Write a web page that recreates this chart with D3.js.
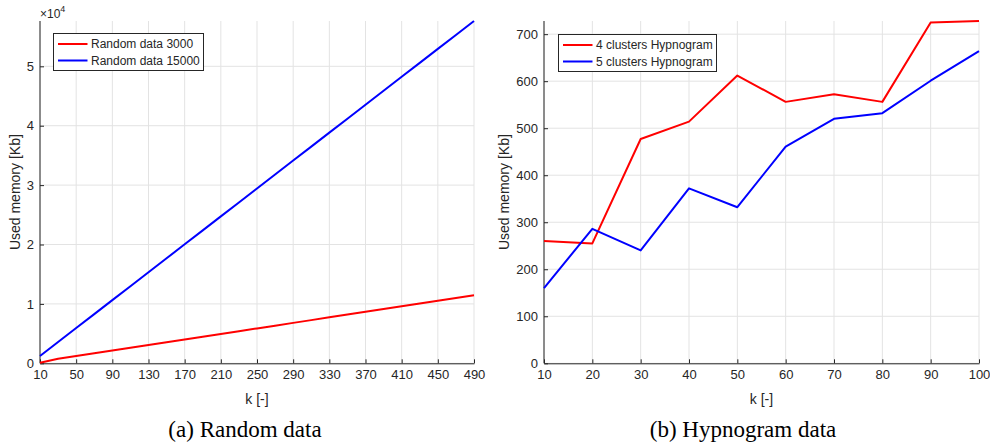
<!DOCTYPE html>
<html>
<head>
<meta charset="utf-8">
<script src="https://cdn.jsdelivr.net/npm/d3@7"></script>
<style>
  html, body { margin: 0; padding: 0; background: #fff; }
  svg { display: block; }
  text { font-family: "Liberation Sans", Arial, Helvetica, sans-serif; fill: #262626; }
  .caption { font-family: "Liberation Serif", "Times New Roman", serif; fill: #000; }
</style>
</head>
<body>
<svg id="fig" width="990" height="446"></svg>
<script>
// ---- Random data panel ----
const kRandom = [10, 30, 50, 70, 90, 110, 130, 150, 170, 190, 210, 230, 250,
                 270, 290, 310, 330, 350, 370, 390, 410, 430, 450, 470, 490];
const random3000 = [100, 760, 1225, 1690, 2155, 2620, 3085, 3550, 4015, 4480, 4945, 5410, 5875,
                    6340, 6805, 7270, 7735, 8200, 8665, 9130, 9595, 10060, 10525, 10990, 11455];
const random15000 = [1230, 3580, 5930, 8280, 10630, 12980, 15330, 17680, 20030, 22380, 24730, 27080, 29430,
                     31780, 34130, 36480, 38830, 41180, 43530, 45880, 48230, 50580, 52930, 55280, 57630];
const randomXTicks = [10, 50, 90, 130, 170, 210, 250, 290, 330, 370, 410, 450, 490];
const randomYTicks = [0, 10000, 20000, 30000, 40000, 50000];
const randomLegend = ["Random data 3000", "Random data 15000"];

// ---- Hypnogram data panel ----
const kHyp = [10, 20, 30, 40, 50, 60, 70, 80, 90, 100];
const hyp4 = [260, 255, 477, 514, 612, 556, 572, 556, 725, 728];
const hyp5 = [160, 286, 240, 372, 332, 461, 520, 532, 601, 664];
const hypXTicks = [10, 20, 30, 40, 50, 60, 70, 80, 90, 100];
const hypYTicks = [0, 100, 200, 300, 400, 500, 600, 700];
const hypLegend = ["4 clusters Hypnogram", "5 clusters Hypnogram"];

const seriesColors = ["#ff0000", "#0000ff"];

const svg = d3.select("#fig");

function panel(cfg) {
  const g = svg.append("g");
  const x = d3.scaleLinear().domain(d3.extent(cfg.xTicks)).range([cfg.left, cfg.right]);
  const yMax = d3.max(cfg.series.flat());
  const y = d3.scaleLinear().domain([0, yMax]).range([cfg.bottom, cfg.top]);

  // grid
  g.append("g").selectAll("line").data(cfg.xTicks).join("line")
    .attr("x1", d => x(d)).attr("x2", d => x(d))
    .attr("y1", cfg.top).attr("y2", cfg.bottom)
    .attr("stroke", "#e3e3e3").attr("stroke-width", 1);
  g.append("g").selectAll("line").data(cfg.yTicks).join("line")
    .attr("x1", cfg.left).attr("x2", cfg.right)
    .attr("y1", d => y(d)).attr("y2", d => y(d))
    .attr("stroke", "#e3e3e3").attr("stroke-width", 1);

  // axes (ticks pointing inward)
  const xAxis = d3.axisBottom(x).tickValues(cfg.xTicks).tickSizeInner(-4).tickSizeOuter(0).tickPadding(6);
  const yAxis = d3.axisLeft(y).tickValues(cfg.yTicks).tickSizeInner(-4).tickSizeOuter(0).tickPadding(6)
    .tickFormat(cfg.yFormat || (d => d));
  const gx = g.append("g").attr("transform", `translate(0,${cfg.bottom})`).call(xAxis);
  const gy = g.append("g").attr("transform", `translate(${cfg.left},0)`).call(yAxis);
  [gx, gy].forEach(a => {
    a.attr("font-size", 13);
    a.select(".domain").attr("stroke", "#262626").attr("stroke-width", 1);
    a.selectAll(".tick line").attr("stroke", "#262626");
    a.selectAll(".tick text").attr("font-size", 13).attr("fill", "#262626");
  });
  gy.select(".domain").attr("d", `M0,${cfg.bottom}V${cfg.top}`);

  // series lines
  const line = d3.line().x((d, i) => x(cfg.k[i])).y(d => y(d));
  cfg.series.forEach((s, i) => {
    g.append("path").datum(s).attr("d", line)
      .attr("fill", "none").attr("stroke", seriesColors[i])
      .attr("stroke-width", 2).attr("stroke-linejoin", "round");
  });

  // axis labels
  g.append("text").attr("x", (cfg.left + cfg.right) / 2).attr("y", cfg.bottom + 41)
    .attr("text-anchor", "middle").attr("font-size", 14).text("k [-]");
  g.append("text")
    .attr("transform", `translate(${cfg.yLabelX},${(cfg.top + cfg.bottom) / 2}) rotate(-90)`)
    .attr("text-anchor", "middle").attr("font-size", 14).text("Used memory [Kb]");

  // legend
  const lg = g.append("g").attr("transform", `translate(${cfg.legX},${cfg.legY})`);
  lg.append("rect").attr("width", cfg.legW).attr("height", 37)
    .attr("fill", "#fff").attr("stroke", "#262626").attr("stroke-width", 1);
  cfg.legend.forEach((name, i) => {
    const yy = 10.5 + i * 16.5;
    lg.append("line").attr("x1", 4.5).attr("x2", 34).attr("y1", yy).attr("y2", yy)
      .attr("stroke", seriesColors[i]).attr("stroke-width", 2);
    lg.append("text").attr("x", 37.5).attr("y", yy + 4.3).attr("font-size", 12).text(name);
  });

  // caption
  svg.append("text").attr("class", "caption")
    .attr("x", cfg.capX).attr("y", 437).attr("text-anchor", "middle")
    .attr("font-size", 23).text(cfg.caption);
  return g;
}

const gA = panel({
  left: 40, right: 474, top: 21, bottom: 363.3,
  k: kRandom, series: [random3000, random15000],
  xTicks: randomXTicks, yTicks: randomYTicks,
  yFormat: d => d / 10000, yLabelX: 20,
  legend: randomLegend, legX: 53.5, legY: 33.5, legW: 150,
  caption: "(a) Random data", capX: 245
});
// exponent marker
const expo = gA.append("text").attr("x", 40).attr("y", 18).attr("font-size", 12);
expo.append("tspan").text("\u00d710");
expo.append("tspan").attr("dy", -6).attr("font-size", 9).text("4");

panel({
  left: 544, right: 979, top: 21, bottom: 363.3,
  k: kHyp, series: [hyp4, hyp5],
  xTicks: hypXTicks, yTicks: hypYTicks, yLabelX: 509,
  legend: hypLegend, legX: 558.5, legY: 34.5, legW: 158,
  caption: "(b) Hypnogram data", capX: 743
});
</script>
</body>
</html>
